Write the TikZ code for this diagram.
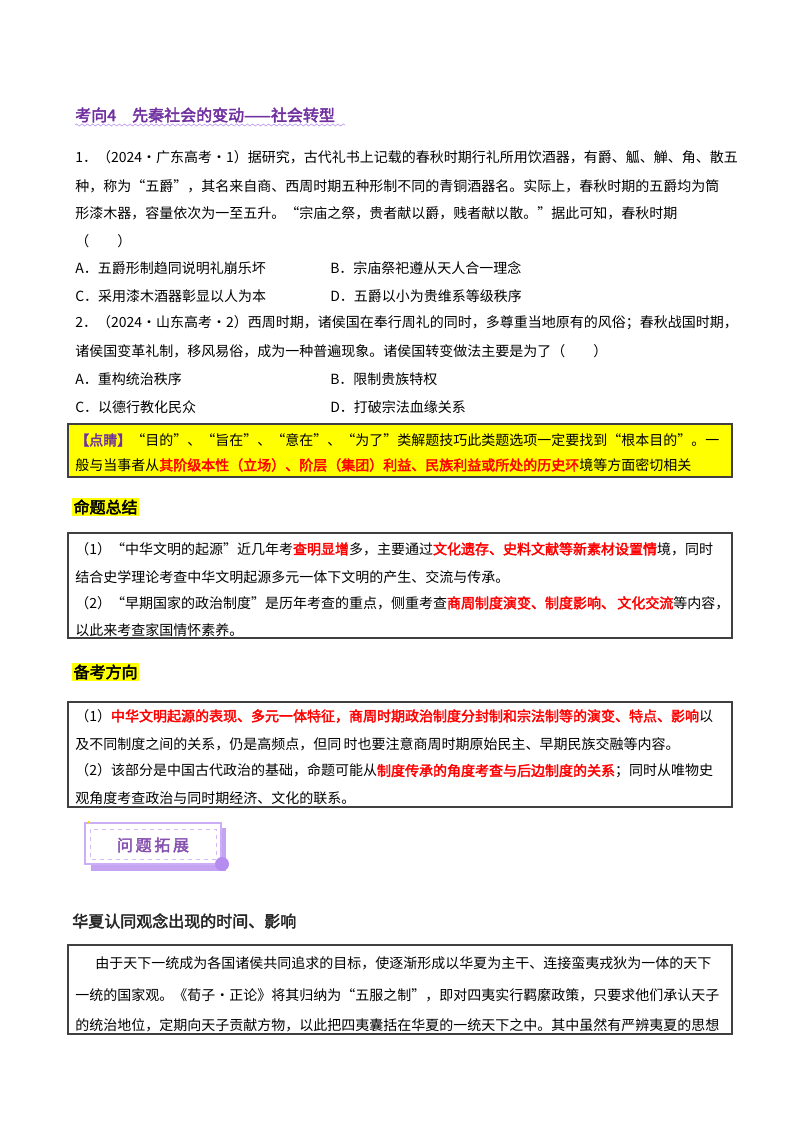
\documentclass[tikz,border=0pt]{standalone}
\usepackage{fontspec}
\setmainfont{Noto Sans CJK SC}[AutoFakeBold=2.5]
\usetikzlibrary{decorations.pathmorphing}
\definecolor{pur}{HTML}{7030A0}
\definecolor{lpur}{HTML}{B58CF0}
\definecolor{hl}{HTML}{FFFF00}
\definecolor{rd}{HTML}{FF0000}
\newcommand{\R}[1]{\textcolor{rd}{\bfseries #1}}
\begin{document}
\begin{tikzpicture}[x=0.75pt,y=-0.75pt,
  ln/.style={anchor=west,inner sep=0pt,font=\fontsize{10.5}{12}\selectfont},
  hd/.style={anchor=west,inner sep=0pt,font=\fontsize{12}{14}\selectfont\bfseries},
  bx/.style={draw=black!75,line width=1pt}]
\useasboundingbox[fill=white] (0,0) rectangle (800,1132);
% title
\node[hd,text=pur] (title) at (75,115) {考向4\hspace{1em}先秦社会的变动——社会转型};
\draw[lpur,decorate,decoration={snake,amplitude=0.8pt,segment length=4pt}] (75,125) -- (345,125);
% Q1
\node[ln] (q1a) at (75,157) {1．（2024·广东高考·1）据研究，古代礼书上记载的春秋时期行礼所用饮酒器，有爵、觚、觯、角、散五};
\node[ln] (q1b) at (75,186) {种，称为“五爵”，其名来自商、西周时期五种形制不同的青铜酒器名。实际上，春秋时期的五爵均为筒};
\node[ln] (q1c) at (75,213) {形漆木器，容量依次为一至五升。“宗庙之祭，贵者献以爵，贱者献以散。”据此可知，春秋时期};
\node[ln] (q1d) at (75,241) {（\hspace{2em}）};
\node[ln] (q1A) at (75,268) {A．五爵形制趋同说明礼崩乐坏};
\node[ln] (q1B) at (330,268) {B．宗庙祭祀遵从天人合一理念};
\node[ln] (q1C) at (75,296) {C．采用漆木酒器彰显以人为本};
\node[ln] (q1D) at (330,296) {D．五爵以小为贵维系等级秩序};
% Q2
\node[ln] (q2a) at (75,323) {2．（2024·山东高考·2）西周时期，诸侯国在奉行周礼的同时，多尊重当地原有的风俗；春秋战国时期，};
\node[ln] (q2b) at (75,351) {诸侯国变革礼制，移风易俗，成为一种普遍现象。诸侯国转变做法主要是为了（\hspace{2em}）};
\node[ln] (q2A) at (75,379) {A．重构统治秩序};
\node[ln] (q2B) at (330,379) {B．限制贵族特权};
\node[ln] (q2C) at (75,407) {C．以德行教化民众};
\node[ln] (q2D) at (330,407) {D．打破宗法血缘关系};
% tip box
\draw[bx,fill=hl] (68,424) rectangle (732,477);
\node[ln] (t1) at (75,440) {\textcolor{pur}{\bfseries【点睛】}“目的”、“旨在”、“意在”、“为了”类解题技巧此类题选项一定要找到“根本目的”。一};
\node[ln] (t2) at (75,465) {般与当事者从\R{其阶级本性（立场）、阶层（集团）利益、民族利益或所处的历史环}境等方面密切相关};
% summary
\node[hd,fill=hl,inner sep=1pt] (h1) at (72,507) {命题总结};
\draw[bx] (68,533) rectangle (732,638);
\node[ln] (s1) at (75,549) {（1）“中华文明的起源”近几年考\R{查明显增}多，主要通过\R{文化遗存、史料文献等新素材设置情}境，同时};
\node[ln] (s2) at (75,577) {结合史学理论考查中华文明起源多元一体下文明的产生、交流与传承。};
\node[ln] (s3) at (75,603) {（2）“早期国家的政治制度”是历年考查的重点，侧重考查\R{商周制度演变、制度影响、\,文化交流}等内容，};
\node[ln] (s4) at (75,630) {以此来考查家国情怀素养。};
% direction
\node[hd,fill=hl,inner sep=1pt] (h2) at (72,672) {备考方向};
\draw[bx] (68,702) rectangle (732,807);
\node[ln] (d1) at (75,716) {（1）\R{中华文明起源的表现、多元一体特征，商周时期政治制度分封制和宗法制等的演变、特点、影响}以};
\node[ln] (d2) at (75,744) {及不同制度之间的关系，仍是高频点，但同\,时也要注意商周时期原始民主、早期民族交融等内容。};
\node[ln] (d3) at (75,771) {（2）该部分是中国古代政治的基础，命题可能从\R{制度传承的角度考查与后边制度的关系}；同时从唯物史};
\node[ln] (d4) at (75,798) {观角度考查政治与同时期经济、文化的联系。};
% badge
\fill[lpur!80] (91,828) rectangle (226,871);
\draw[lpur!70,fill=white,line width=1pt] (85,823) rectangle (221,864);
\draw[lpur!60,dashed,line width=0.6pt] (90,829) rectangle (216,859);
\fill[lpur] (222,864) circle (7);
\fill[yellow!80!orange] (89,822) circle (1.5);
\node[inner sep=0pt,font=\fontsize{12}{14}\selectfont\bfseries,text=pur!85] (badge) at (153,845) {问\,题\,拓\,展};
% heading 3
\node[hd,text=black!85] (h3) at (72,921) {华夏认同观念出现的时间、影响};
\draw[bx] (68,945) rectangle (732,1034);
\node[ln] (b1) at (95,963) {由于天下一统成为各国诸侯共同追求的目标，使逐渐形成以华夏为主干、连接蛮夷戎狄为一体的天下};
\node[ln] (b2) at (75,995) {一统的国家观。《荀子·正论》将其归纳为“五服之制”，即对四夷实行羁縻政策，只要求他们承认天子};
\node[ln] (b3) at (75,1025) {的统治地位，定期向天子贡献方物，以此把四夷囊括在华夏的一统天下之中。其中虽然有严辨夷夏的思想};
\end{tikzpicture}
\end{document}
